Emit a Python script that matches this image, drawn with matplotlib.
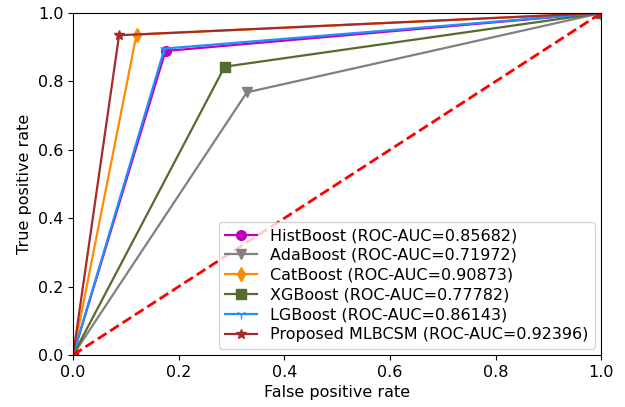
import matplotlib
matplotlib.use("Agg")
import matplotlib.pyplot as plt

# ROC points (fpr, tpr) at the single operating threshold
models = ["HistBoost", "AdaBoost", "CatBoost", "XGBoost", "LGBoost", "Proposed MLBCSM"]
auc = ["0.85682", "0.71972", "0.90873", "0.77782", "0.86143", "0.92396"]
fpr = [[0, 0.175, 1], [0, 0.329, 1], [0, 0.120, 1], [0, 0.287, 1], [0, 0.173, 1], [0, 0.087, 1]]
tpr = [[0, 0.889, 1], [0, 0.768, 1], [0, 0.937, 1], [0, 0.843, 1], [0, 0.896, 1], [0, 0.935, 1]]

colors = ["m", "gray", "darkorange", "darkolivegreen", "dodgerblue", "brown"]
markers = ["o", "v", "d", "s", "1", "*"]

plt.rcParams["font.size"] = 11.5

fig = plt.figure(figsize=(6.25, 4.07), dpi=100)
ax = fig.add_axes([0.117, 0.128, 0.845, 0.84])

for i, name in enumerate(models):
    ax.plot(fpr[i], tpr[i], color=colors[i], marker=markers[i], markersize=7,
            linewidth=1.6, label=f"{name} (ROC-AUC={auc[i]})")

ax.plot([0, 1], [0, 1], "r--", linewidth=2)

ax.set_xlim(0, 1)
ax.set_ylim(0, 1)
ax.set_xlabel("False positive rate")
ax.set_ylabel("True positive rate")
ax.legend(loc="lower right", borderaxespad=0.4, handletextpad=0.8, labelspacing=0.3)

plt.savefig("out.png")
